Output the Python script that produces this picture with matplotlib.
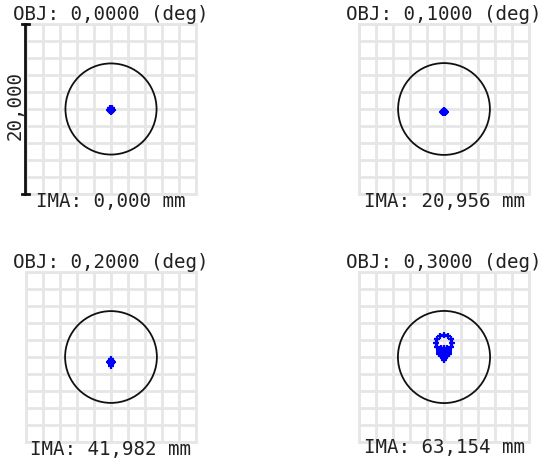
import matplotlib.pyplot as plt
from matplotlib.patches import Circle

# field angles (deg) and image heights (mm)
obj_deg = [0.0, 0.1, 0.2, 0.3]
ima_mm = [0.000, 20.956, 41.982, 63.154]
airy_radius = [5.36, 5.40, 5.40, 5.42]
scale_label = "20,000"

# spot ray positions (x, y) per field, in plot units (box is -10..10)
spot_x = [
    [0.0, 0.2, -0.2, 0.0, 0.0, 0.12, -0.12, 0.12, -0.12],
    [0.0, 0.2, -0.2, 0.0, 0.0, 0.12, -0.12, 0.12, -0.12],
    [0.0, 0.18, -0.18, 0.0, 0.0, 0.1, -0.1, 0.1, -0.1, 0.0, 0.0],
    [0.0, 0.47, -0.47, 0.82, -0.82, 0.95, -0.95, 0.82, -0.82, 0.47, -0.47, 0.0,
     0.0, 0.31, -0.31, 0.55, -0.55, 0.63, -0.63, 0.55, -0.55, 0.31, -0.31, 0.0,
     0.0, 0.16, -0.16, 0.28, -0.28, 0.32, -0.32, 0.28, -0.28, 0.16, -0.16, 0.0,
     0.0, 0.1, -0.1, 0.0],
]
spot_y = [
    [-0.08, -0.08, -0.08, 0.14, -0.3, 0.06, 0.06, -0.22, -0.22],
    [-0.3, -0.3, -0.3, -0.08, -0.52, -0.18, -0.18, -0.42, -0.42],
    [-0.6, -0.6, -0.6, -0.33, -0.87, -0.45, -0.45, -0.75, -0.75, -0.2, -1.0],
    [2.55, 2.42, 2.42, 2.08, 2.08, 1.6, 1.6, 1.12, 1.12, 0.78, 0.78, 0.65,
     1.1, 1.02, 1.02, 0.85, 0.85, 0.6, 0.6, 0.35, 0.35, 0.18, 0.18, 0.12,
     0.55, 0.5, 0.5, 0.4, 0.4, 0.25, 0.25, 0.1, 0.1, 0.0, 0.0, -0.05,
     -0.2, -0.15, -0.15, -0.3],
]

W, H = 545, 466
fig = plt.figure(figsize=(W / 100, H / 100), dpi=100)
plt.rcParams['font.family'] = ['DejaVu Sans Mono']

# panel boxes in pixels: left, top
boxes = [(26, 24), (359, 24), (26, 272), (359, 272)]
side = 170
title_y = [14, 14, 262, 262]
ima_y = [202, 202, 449, 448]
text_col = "#222222"
grid_col = "#e6e6e6"

for i in range(4):
    left, top = boxes[i]
    ax = fig.add_axes([left / W, 1 - (top + side) / H, side / W, side / H])
    ax.set_xlim(-10, 10)
    ax.set_ylim(-10, 10)
    ax.set_xticks(range(-10, 11, 2))
    ax.set_yticks(range(-10, 11, 2))
    ax.tick_params(length=0, labelbottom=False, labelleft=False)
    ax.grid(True, color=grid_col, linewidth=2)
    for s in ax.spines.values():
        s.set_color(grid_col)
        s.set_linewidth(2)
    ax.add_patch(Circle((0, 0), airy_radius[i], fill=False, color="#111111", lw=1.3, zorder=3))
    ax.plot(spot_x[i], spot_y[i], "+", color="#0000ff", markersize=5, mew=1.6, zorder=4)

    cx = (left + side / 2) / W
    obj = f"OBJ: {obj_deg[i]:.4f} (deg)".replace(".", ",")
    ima = f"IMA: {ima_mm[i]:.3f} mm".replace(".", ",")
    fig.text(cx, 1 - title_y[i] / H, obj, ha="center", va="center", fontsize=13.8, color=text_col)
    fig.text(cx, 1 - ima_y[i] / H, ima, ha="center", va="center", fontsize=13.8, color=text_col)

# scale bar on the first panel
sb = fig.add_axes([0, 0, 1, 1])
sb.set_xlim(0, W)
sb.set_ylim(H, 0)
sb.axis("off")
sb.plot([25, 25], [24, 194], color="#111111", lw=2)
sb.plot([22, 29], [24, 24], color="#111111", lw=2)
sb.plot([22, 29], [194, 194], color="#111111", lw=2)
sb.text(15.5, 106, scale_label, rotation=90, ha="center", va="center", fontsize=13.8, color=text_col)

fig.savefig("out.png", dpi=100)
